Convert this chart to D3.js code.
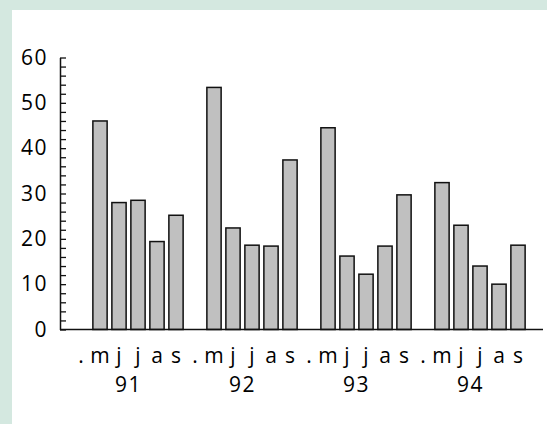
<!DOCTYPE html>
<html>
<head>
<meta charset="utf-8">
<script src="https://cdn.jsdelivr.net/npm/d3@7"></script>
<style>
  body { margin: 0; background: #d4e8e0; }
  svg { display: block; }
  text { font-family: "Open Sans", "DejaVu Sans", sans-serif; fill: #000; font-weight: 500; }
</style>
</head>
<body>
<div id="chart"></div>
<script>
// --- data ---
const years = ["91", "92", "93", "94"];
const months = [".", "m", "j", "j", "a", "s"];   // "." slot stays empty
const values91 = [46.0, 28.0, 28.5, 19.4, 25.2];
const values92 = [53.4, 22.4, 18.6, 18.4, 37.4];
const values93 = [44.5, 16.2, 12.2, 18.4, 29.7];
const values94 = [32.4, 23.0, 14.0, 10.0, 18.6];
const yTicks = [0, 10, 20, 30, 40, 50, 60];

const width = 547, height = 424;
const svg = d3.select("#chart").append("svg").attr("width", width).attr("height", height);

// white panel over the green frame
svg.append("rect").attr("x", 12).attr("y", 10).attr("width", width - 12).attr("height", height - 10).attr("fill", "#fff");

const allSeries = [values91, values92, values93, values94];
const slots = [];
years.forEach((yr, gi) => {
    months.forEach((m, mi) => {
        slots.push({ key: yr + "-" + mi, year: yr, month: m, value: mi === 0 ? null : allSeries[gi][mi - 1] });
    });
});

const x = d3.scaleBand().domain(slots.map(d => d.key)).range([71.5, 527.5]).paddingInner(0.25).paddingOuter(0.125);
const y = d3.scaleLinear().domain([0, 60]).range([329.5, 57.5]);

// bars
svg.append("g").selectAll("rect").data(slots.filter(d => d.value !== null)).join("rect")
    .attr("x", d => x(d.key))
    .attr("y", d => y(d.value))
    .attr("width", x.bandwidth())
    .attr("height", d => y(0) - y(d.value))
    .attr("fill", "#c0c0c0")
    .attr("stroke", "#111")
    .attr("stroke-width", 1.5);

// y axis: minor ticks every 2, labels every 10
const yMinor = svg.append("g").attr("transform", "translate(60,0)")
    .call(d3.axisLeft(y).tickValues(d3.range(0, 61, 2)).tickSize(-6).tickFormat(""));
yMinor.select(".domain").remove();
yMinor.selectAll("line").attr("stroke", "#111").attr("stroke-width", 1.3);

const yAxis = svg.append("g").attr("transform", "translate(60,0)")
    .call(d3.axisLeft(y).tickValues(yTicks).tickSize(0).tickPadding(12));
yAxis.select(".domain").attr("stroke", "#111").attr("stroke-width", 1.5);
yAxis.selectAll("text").attr("font-size", 21).attr("letter-spacing", 1.5).attr("fill", "#000");

// baseline
svg.append("line").attr("x1", 60).attr("x2", 543).attr("y1", y(0)).attr("y2", y(0))
    .attr("stroke", "#111").attr("stroke-width", 1.5);

// month labels
svg.append("g").selectAll("text").data(slots).join("text")
    .attr("x", d => x(d.key) + x.bandwidth() / 2)
    .attr("y", 362.5)
    .attr("text-anchor", "middle")
    .attr("font-size", 21)
    .text(d => d.month);

// year labels
svg.append("g").selectAll("text").data(years).join("text")
    .attr("x", yr => {
        const first = x(yr + "-0"), last = x(yr + "-5");
        return (first + last + x.bandwidth()) / 2;
    })
    .attr("y", 391.5)
    .attr("text-anchor", "middle")
    .attr("font-size", 21)
    .attr("letter-spacing", 1.5)
    .text(yr => yr);
</script>
</body>
</html>
